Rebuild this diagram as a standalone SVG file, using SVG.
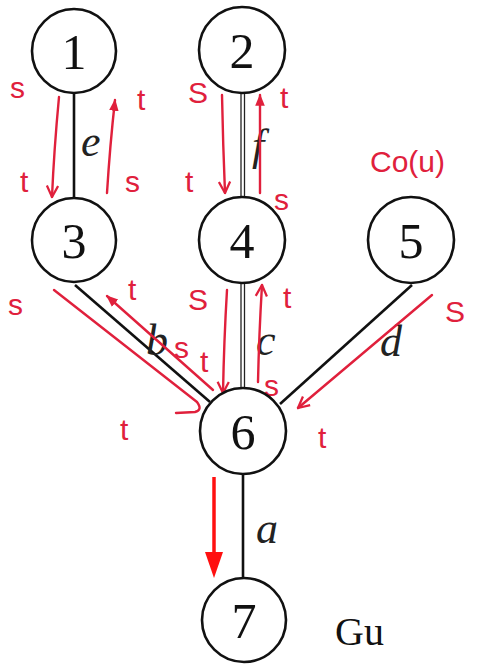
<svg xmlns="http://www.w3.org/2000/svg" width="479" height="664" viewBox="0 0 479 664">
<style>
.node circle{fill:#fff;stroke:#111;stroke-width:2.6}
.node text{font-family:"Liberation Serif",serif;font-size:50px;fill:#111;text-anchor:middle}
.edge{stroke:#111;stroke-width:2.6;fill:none}
.dbl{stroke:#222;stroke-width:1.3;fill:none}
.el{font-family:"Liberation Serif",serif;font-style:italic;font-size:44px;fill:#222}
.ra{stroke:#e0203c;stroke-width:2.4;fill:none;stroke-linecap:round;stroke-linejoin:round}
.rt{font-family:"Liberation Sans",sans-serif;font-size:30px;fill:#e0203c}
</style>
<defs>
<marker id="vh" viewBox="0 0 10 10" refX="9" refY="5" markerWidth="14" markerHeight="14" markerUnits="userSpaceOnUse" orient="auto"><path d="M1,1 L9,5 L1,9" fill="none" stroke="#e0203c" stroke-width="1.6"/></marker>
<marker id="fh" viewBox="0 0 10 10" refX="9" refY="5" markerWidth="12" markerHeight="12" markerUnits="userSpaceOnUse" orient="auto"><path d="M0,1 L10,5 L0,9 Z" fill="#e0203c"/></marker>
</defs>
<g id="connectors">
<line class="edge" x1="74" y1="93" x2="74" y2="198"/>
<line class="dbl" x1="241" y1="93" x2="241" y2="198"/>
<line class="dbl" x1="244.5" y1="93" x2="244.5" y2="198"/>
<line class="dbl" x1="241" y1="283" x2="241" y2="388"/>
<line class="dbl" x1="244.5" y1="283" x2="244.5" y2="388"/>
<line class="edge" x1="75" y1="285" x2="210" y2="402"/>
<line class="edge" x1="412" y1="285" x2="280" y2="404"/>
<line class="edge" x1="243" y1="473" x2="243" y2="578"/>
<text class="el" x="81" y="156">e</text>
<text class="el" x="252" y="160">f</text>
<text class="el" x="146" y="355">b</text>
<text class="el" x="256" y="355">c</text>
<text class="el" x="380" y="356">d</text>
<text class="el" x="256" y="543">a</text>
</g>
<g id="annotations">
<path class="ra" d="M59,97 Q54,150 52,197" marker-end="url(#vh)"/>
<path class="ra" d="M107,193 Q110,145 115,100" marker-end="url(#fh)"/>
<path class="ra" d="M222,95 Q223,145 225,193" marker-end="url(#vh)"/>
<path class="ra" d="M260,193 L260,95" marker-end="url(#fh)"/>
<path class="ra" d="M54,290 L197,402 Q203,410 195,412 L176,413"/>
<path class="ra" d="M213,390 L107,296" marker-end="url(#fh)"/>
<path class="ra" d="M227,290 Q224,340 223,393" marker-end="url(#vh)"/>
<path class="ra" d="M258,382 Q259,335 262,285" marker-end="url(#vh)"/>
<path class="ra" d="M432,295 L298,408" marker-end="url(#vh)"/>
<line x1="214" y1="477" x2="214" y2="556" stroke="#ff1010" stroke-width="3.5"/>
<path d="M205,552 L223,552 L214,578 Z" fill="#ff1010"/>
<text class="rt" x="10" y="98">s</text>
<text class="rt" x="20" y="192">t</text>
<text class="rt" x="125" y="192">s</text>
<text class="rt" x="137" y="110" font-size="24">t</text>
<text class="rt" x="188" y="103">S</text>
<text class="rt" x="280" y="108">t</text>
<text class="rt" x="185" y="192">t</text>
<text class="rt" x="274" y="210">s</text>
<text class="rt" x="370" y="172" font-size="28">Co(u)</text>
<text class="rt" x="8" y="315">s</text>
<text class="rt" x="128" y="300">t</text>
<text class="rt" x="174" y="358" font-size="24">s</text>
<text class="rt" x="200" y="372" font-size="26">t</text>
<text class="rt" x="120" y="440">t</text>
<text class="rt" x="188" y="310">S</text>
<text class="rt" x="283" y="308">t</text>
<text class="rt" x="264" y="396">s</text>
<text class="rt" x="445" y="322">S</text>
<text class="rt" x="318" y="448">t</text>
<text x="335" y="645" font-family="Liberation Serif,serif" font-size="40" fill="#111">Gu</text>
</g>
<g id="n1" class="node"><circle cx="74" cy="51" r="42"/><text x="74" y="69">1</text></g>
<g id="n2" class="node"><circle cx="242" cy="50" r="43"/><text x="242" y="68">2</text></g>
<g id="n3" class="node"><circle cx="74" cy="240" r="42"/><text x="74" y="258">3</text></g>
<g id="n4" class="node"><circle cx="242" cy="240" r="43"/><text x="242" y="258">4</text></g>
<g id="n5" class="node"><circle cx="411" cy="240" r="43"/><text x="411" y="258">5</text></g>
<g id="n6" class="node"><circle cx="243" cy="431" r="43"/><text x="243" y="449">6</text></g>
<g id="n7" class="node"><circle cx="244" cy="620" r="42"/><text x="244" y="638">7</text></g>
</svg>
